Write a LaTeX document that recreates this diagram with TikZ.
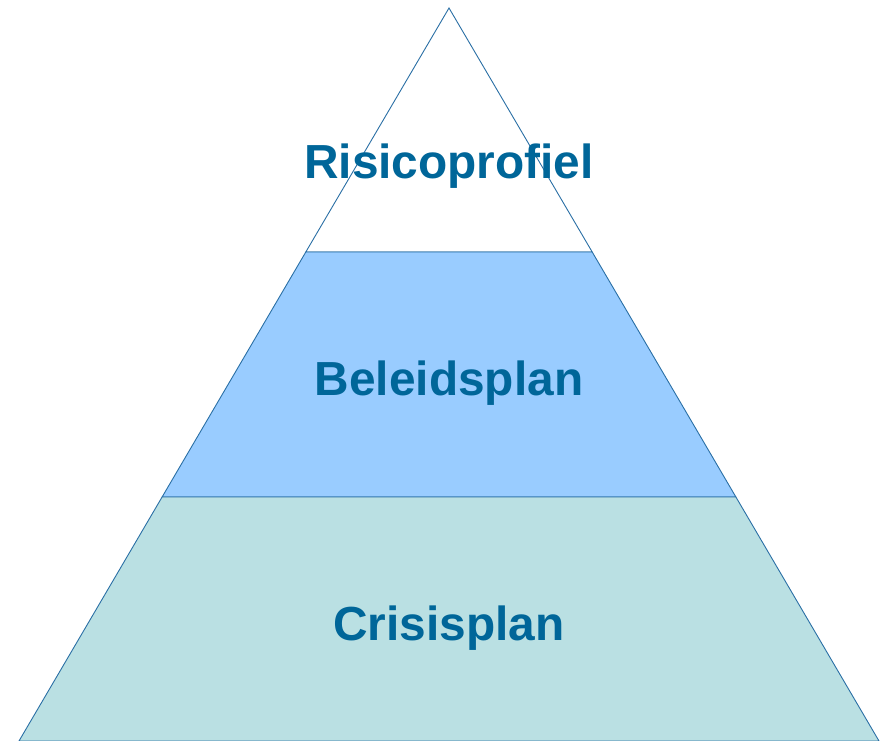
\documentclass[tikz,border=0pt]{standalone}
\usepackage{fontspec}
\setmainfont{Liberation Sans}
\definecolor{edgeblue}{HTML}{2A6FA5}
\definecolor{midfill}{HTML}{99CCFF}
\definecolor{lowfill}{HTML}{BAE0E3}
\definecolor{textblue}{HTML}{006699}
\tikzset{
  band/.style={draw=edgeblue, line width=0.9bp, line join=miter},
  label/.style={anchor=base, inner sep=0pt, text=textblue, font=\fontsize{48}{52}\selectfont\bfseries}
}
\begin{document}
\begin{tikzpicture}[x=1bp,y=-1bp]
\useasboundingbox (0,0) rectangle (881,741);
\coordinate (apex) at (449,8);
\coordinate (l1) at (305.8,252);
\coordinate (r1) at (592.2,252);
\coordinate (l2) at (162.1,497);
\coordinate (r2) at (735.9,497);
\coordinate (l3) at (19,741);
\coordinate (r3) at (879,741);
\path[band, fill=white] (apex) -- (r1) -- (l1) -- cycle;
\path[band, fill=midfill] (l1) -- (r1) -- (r2) -- (l2) -- cycle;
\path[band, fill=lowfill] (l2) -- (r2) -- (r3) -- (l3) -- cycle;
\node[label] (risico) at (449,178) {Risicoprofiel};
\node[label] (beleid) at (449,395) {Beleidsplan};
\node[label] (crisis) at (449,640) {Crisisplan};
\end{tikzpicture}
\end{document}
